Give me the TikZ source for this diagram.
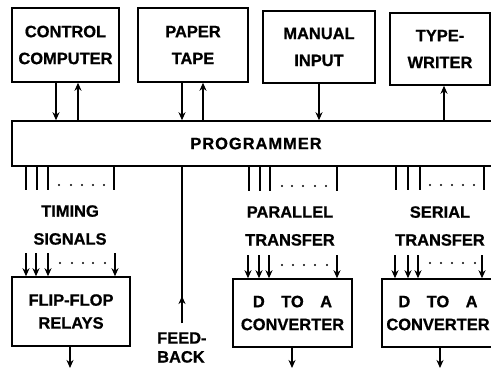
\documentclass[tikz,border=0pt]{standalone}
\usepackage{fontspec}
\setmainfont{Liberation Sans}[BoldFeatures={FakeBold=0.8}]
\usetikzlibrary{arrows.meta}
\newcommand\boxfont{\fontsize{16.5}{27}\selectfont\bfseries}
\begin{document}
\begin{tikzpicture}[x=1bp,y=-1bp,
  box/.style={draw, line width=1.5bp, inner sep=0pt, align=center, font=\boxfont},
  lbl/.style={inner sep=0pt, align=center, font=\boxfont},
  wire/.style={line width=1.5bp},
  arr/.style={wire, -{Stealth[length=8bp,width=7bp,inset=2.5bp]}},
  dot/.style={circle, fill, inner sep=0pt, minimum size=2.4bp}
]
\useasboundingbox (0,0) rectangle (491,369);

% sources and sinks on top
\node[box, minimum width=107bp, minimum height=74bp] (cc) at (65.5,45) {CONTROL\\COMPUTER};
\node[box, minimum width=110bp, minimum height=74bp] (pt) at (193,45) {PAPER\\TAPE};
\node[box, minimum width=112bp, minimum height=72bp] (mi) at (319,47) {MANUAL\\INPUT};
\node[box, minimum width=100bp, minimum height=72bp] (tw) at (440,49) {TYPE-\\WRITER};

% the programmer bus
\node[box, minimum width=488bp, minimum height=45bp] (prog) at (256,143.5)
  {\addfontfeatures{LetterSpace=6}PROGRAMMER};

% output units
\node[box, minimum width=118bp, minimum height=69bp] (ff) at (71,311.5) {FLIP-FLOP\\[-4bp]RELAYS};
\node[box, minimum width=119bp, minimum height=68bp] (da1) at (292.5,313) {D\quad TO\quad A\\[-4bp]CONVERTER};
\node[box, minimum width=112bp, minimum height=68bp] (da2) at (438,313) {D\quad TO\quad A\\[-4bp]CONVERTER};

% connections between the top units and the programmer
\draw[arr] (cc.south -| 56,0) -- (prog.north -| 56,0);
\draw[arr] (prog.north -| 78,0) -- (cc.south -| 78,0);
\draw[arr] (pt.south -| 182,0) -- (prog.north -| 182,0);
\draw[arr] (prog.north -| 203,0) -- (pt.south -| 203,0);
\draw[arr] (mi.south -| 319,0) -- (prog.north -| 319,0);
\draw[arr] (prog.north -| 444,0) -- (tw.south -| 444,0);

% line groups leaving the programmer
\foreach \x in {26,37,48,114} \draw[wire] (prog.south -| \x,0) -- (\x,190);
\foreach \x in {59,71,82,93,104} \node[dot] at (\x,185) {};
\foreach \x in {249,260,270,337} \draw[wire] (prog.south -| \x,0) -- (\x,191);
\foreach \x in {282,292,303,315,326} \node[dot] at (\x,186) {};
\foreach \x in {396,408,420,484} \draw[wire] (prog.south -| \x,0) -- (\x,190);
\foreach \x in {430,441,452,463,474} \node[dot] at (\x,185) {};

% group labels
\node[lbl] (tim) at (70,225) {TIMING\\[1bp]SIGNALS};
\node[lbl] (par) at (290,226) {PARALLEL\\[1bp]TRANSFER};
\node[lbl] (ser) at (440,226) {SERIAL\\[1bp]TRANSFER};

% line groups entering the output units
\foreach \x in {26,36,48,115} \draw[arr] (\x,253) -- (ff.north -| \x,0);
\foreach \x in {60,72,83,93,105} \node[dot] at (\x,263) {};
\foreach \x in {248,259,269,337} \draw[arr] (\x,255) -- (da1.north -| \x,0);
\foreach \x in {282,293,304,315,327} \node[dot] at (\x,265) {};
\foreach \x in {395,408,418,482} \draw[arr] (\x,255) -- (da2.north -| \x,0);
\foreach \x in {430,441,452,463,475} \node[dot] at (\x,263) {};

% outputs
\draw[arr] (ff.south -| 70,0) -- (70,368);
\draw[arr] (da1.south -| 292,0) -- (292,368);
\draw[arr] (da2.south -| 440,0) -- (440,368);

% feedback into the programmer
\coordinate (fb) at (182,323);
\draw[wire] (fb) -- (prog.south -| fb);
\draw[arr] (fb) -- ++(0,-27);
\node[lbl, align=left, anchor=west] (fbl) at (157,347.5) {FEED-\\[-8bp]BACK};
\end{tikzpicture}
\end{document}
